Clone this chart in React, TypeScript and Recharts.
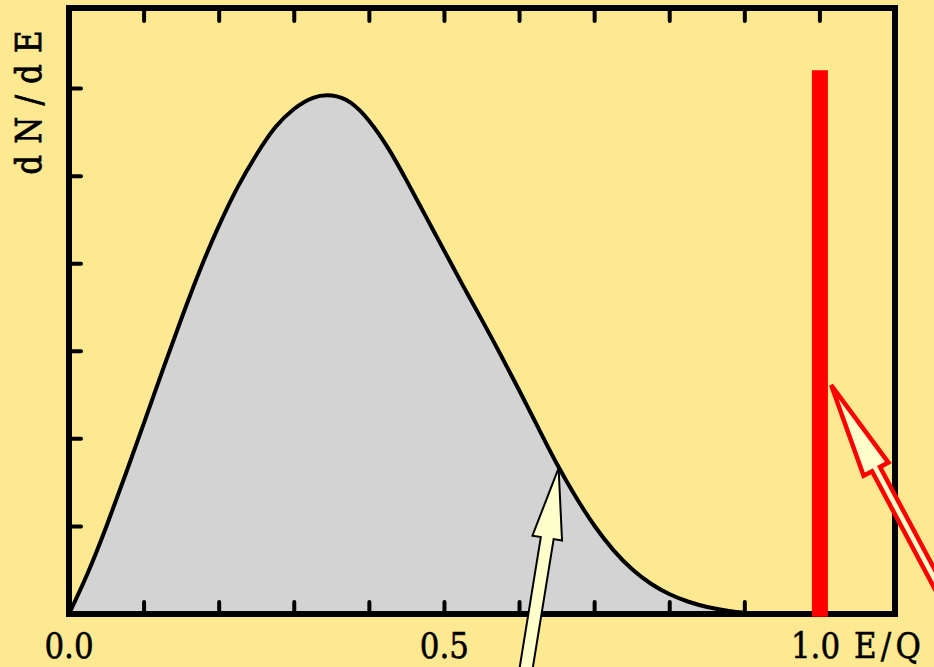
import React from 'react';
import { AreaChart, Area, XAxis, YAxis, ReferenceArea, ReferenceLine, ReferenceDot } from 'recharts';

// Beta spectrum shape (E/Q, dN/dE)
const energy = [0, 0.025, 0.05, 0.075, 0.1, 0.125, 0.15, 0.175, 0.2, 0.225, 0.25, 0.275, 0.3, 0.325, 0.35, 0.375, 0.4, 0.425, 0.45, 0.475, 0.5, 0.525, 0.55, 0.575, 0.6, 0.625, 0.65, 0.675, 0.7, 0.725, 0.75, 0.775, 0.8, 0.825, 0.85, 0.875, 0.9, 0.925];
const counts = [0, 0.468, 1.005, 1.587, 2.186, 2.79, 3.38, 3.94, 4.44, 4.88, 5.25, 5.56, 5.77, 5.895, 5.92, 5.84, 5.628, 5.32, 4.943, 4.543, 4.144, 3.744, 3.356, 2.957, 2.546, 2.125, 1.71, 1.336, 1.005, 0.73, 0.51, 0.345, 0.225, 0.14, 0.08, 0.04, 0.013, 0];

const xTicksBottom = [0, 0.1, 0.2, 0.3, 0.4, 0.5, 0.6, 0.7, 0.8, 0.9, 1.0];
const xTicksTop = [0.1, 0.2, 0.3, 0.4, 0.5, 0.6, 0.7, 0.8, 0.9, 1.0];
const xLabels: Record<string, string> = { '0': '0.0', '0.5': '0.5', '1': '1.0' };
const xUnit = 'E/Q';
const yTitle = 'dN/dE';
const yTicks = [1, 2, 3, 4, 5, 6];

const X_MAX = 1.1;
const Y_MAX = 6.92;

// Monoenergetic line (red bar) at E/Q = 1
const lineEnergy = 1.0;
const lineHeight = 6.21;

// Annotation arrow tips (data coords)
const arrowTipX = [0.652, 1.015];
const arrowTipY = [1.667, 2.614];

const data = energy.map((e, i) => ({ E: e, y: counts[i] }));

const FONT = '"DejaVu Serif", serif';
const FS = 36;
const SX = 0.86;
const BG = '#FDE992';

const Lbl = ({ x, y, anchor, spacing, children }: any) => (
  <text transform={`translate(${x} ${y}) scale(${SX} 1)`} x={0} y={0} textAnchor={anchor} fontFamily={FONT}
    fontSize={FS} letterSpacing={spacing || 0} fill="#000" stroke="#000" strokeWidth={0.6}>{children}</text>
);

const BottomTick = (props: any) => {
  const { x, y, payload } = props;
  const v = payload.value;
  const key = String(Math.round(v * 10) / 10);
  const label = xLabels[key];
  return (
    <g>
      {v > 0.05 && v < 0.95 ? (
        <line x1={x} y1={y} x2={x} y2={y - 12} stroke="#000" strokeWidth={4} strokeLinecap="round" />
      ) : null}
      {label && key !== '1' ? <Lbl x={x} y={y + 44} anchor="middle">{label}</Lbl> : null}
      {key === '1' ? (
        <g>
          <Lbl x={x - 29} y={y + 44} anchor="start">{label}</Lbl>
          <Lbl x={x + 34} y={y + 44} anchor="start" spacing={5}>{xUnit}</Lbl>
        </g>
      ) : null}
    </g>
  );
};

const TopTick = (props: any) => {
  const { x, y } = props;
  return <line x1={x} y1={y} x2={x} y2={y + 13} stroke="#000" strokeWidth={4} strokeLinecap="round" />;
};

const LeftTick = (props: any) => {
  const { x, y } = props;
  return <line x1={x} y1={y} x2={x + 12} y2={y} stroke="#000" strokeWidth={4} strokeLinecap="round" />;
};

const RightTick = (props: any) => {
  const { x, y } = props;
  return <line x1={x} y1={y} x2={x - 12} y2={y} stroke="#000" strokeWidth={4} strokeLinecap="round" />;
};

const makeArrow = (spec: { dx: number; dy: number; H: number; W: number; w: number; L: number; stroke: string; sw: number }) =>
  (props: any) => {
    const { cx, cy } = props;
    const { dx, dy, H, W, w, L } = spec;
    const px = -dy;
    const py = dx;
    const local = [[0, 0], [H, W], [H, w], [L, w], [L, -w], [H, -w], [H, -W]];
    const pts = local.map(([u, v]) => `${cx + u * dx + v * px},${cy + u * dy + v * py}`).join(' ');
    return <polygon points={pts} fill="#FFFFCC" stroke={spec.stroke} strokeWidth={spec.sw} strokeLinejoin="miter" />;
  };

const YellowArrow = makeArrow({ dx: -0.16, dy: 0.987, H: 71, W: 15, w: 6.5, L: 320, stroke: '#000', sw: 2 });
const RedArrow = makeArrow({ dx: 0.472, dy: 0.885, H: 95, W: 14, w: 4.5, L: 320, stroke: '#FF0000', sw: 4.5 });

const YLabel = (props: any) => {
  const vb = props.viewBox || { x: 68, y: 8 };
  const tx = vb.x - 27;
  const ty = vb.y + 89;
  return (
    <text transform={`translate(${tx} ${ty}) rotate(-90) scale(${SX} 1)`} x={0} y={0} textAnchor="middle"
      fontFamily={FONT} fontSize={FS} letterSpacing={13} fill="#000" stroke="#000" strokeWidth={0.8}>
      {yTitle}
    </text>
  );
};

export default function App() {
  return (
    <div style={{ position: 'absolute', left: 0, top: 0, width: 934, height: 667, background: BG, overflow: 'hidden' }}>
      <AreaChart width={934} height={667} data={data} margin={{ top: 7, right: 38, bottom: 52, left: 68 }}>
        <XAxis xAxisId="b" dataKey="E" type="number" domain={[0, X_MAX]} ticks={xTicksBottom} interval={0}
          orientation="bottom" height={1} tickSize={0} tickMargin={0} axisLine={false} tickLine={false} tick={<BottomTick />} />
        <XAxis xAxisId="t" dataKey="E" type="number" domain={[0, X_MAX]} ticks={xTicksTop} interval={0}
          orientation="top" height={1} tickSize={0} tickMargin={0} axisLine={false} tickLine={false} tick={<TopTick />} />
        <YAxis yAxisId="l" type="number" domain={[0, Y_MAX]} ticks={yTicks} interval={0} width={1}
          tickSize={0} tickMargin={0} axisLine={false} tickLine={false} tick={<LeftTick />} label={<YLabel />} />
        <YAxis yAxisId="r" orientation="right" type="number" domain={[0, Y_MAX]} ticks={yTicks} interval={0} width={1}
          tickSize={0} tickMargin={0} axisLine={false} tickLine={false} tick={<RightTick />} />
        <Area xAxisId="b" yAxisId="l" type="natural" dataKey="y" stroke="#000" strokeWidth={4} fill="#D3D3D3" fillOpacity={1}
          isAnimationActive={false} dot={false} activeDot={false} />
        <ReferenceArea xAxisId="b" yAxisId="l" x1={0} x2={X_MAX} y1={0} y2={Y_MAX} fill="none" fillOpacity={0} stroke="#000" strokeWidth={6} ifOverflow="visible" />
        <ReferenceLine xAxisId="b" yAxisId="l" segment={[{ x: lineEnergy, y: -0.03 }, { x: lineEnergy, y: lineHeight }]}
          stroke="#FF0000" strokeWidth={16} ifOverflow="visible" />
        <ReferenceDot xAxisId="b" yAxisId="l" x={arrowTipX[0]} y={arrowTipY[0]} r={1} ifOverflow="visible" shape={YellowArrow} />
        <ReferenceDot xAxisId="b" yAxisId="l" x={arrowTipX[1]} y={arrowTipY[1]} r={1} ifOverflow="visible" shape={RedArrow} />
      </AreaChart>
    </div>
  );
}
